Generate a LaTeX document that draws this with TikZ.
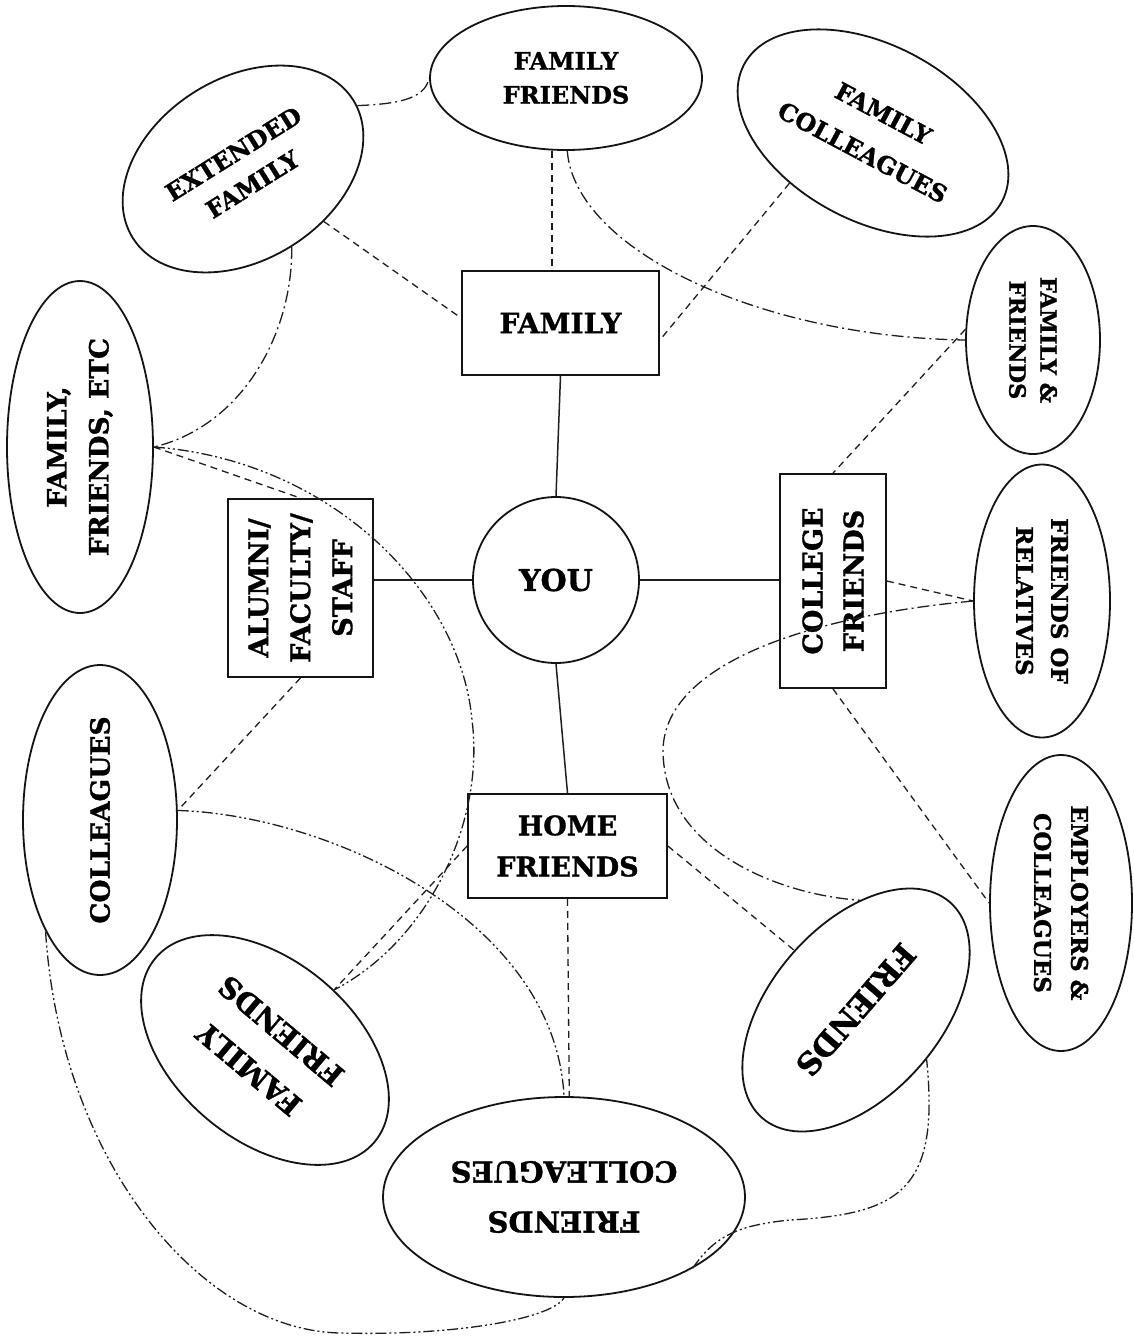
\documentclass[tikz,border=0pt]{standalone}
\usepackage{fontspec}
\setmainfont[BoldFeatures={FakeBold=1.2}]{DejaVu Serif}
\usetikzlibrary{shapes.geometric}
\begin{document}
\begin{tikzpicture}[x=1pt,y=-1pt,
  base/.style={draw=black!92, line width=1.8pt, inner sep=0pt, align=center},
  ell/.style={base, ellipse},
  boxn/.style={base, rectangle},
  sol/.style={draw=black!88, line width=1.5pt},
  dsh/.style={draw=black!88, line width=1.3pt, dash pattern=on 7pt off 5pt},
  dd/.style={draw=black!88, line width=1.3pt, dash pattern=on 12pt off 4pt on 2pt off 4pt},
  ddd/.style={draw=black!88, line width=1.3pt, dash pattern=on 11pt off 3pt on 2pt off 3pt on 2pt off 3pt},
  fnt/.style 2 args={font=\bfseries\fontsize{#1}{#2}\selectfont}
]
\useasboundingbox (0,0) rectangle (1133,1338);
\fill[white] (0,0) rectangle (1133,1338);

% central boxes
\node[boxn, minimum width=197pt, minimum height=104pt, fnt={28}{41}] (family) at (560.5,323) {FAMILY};
\node[base, circle, minimum size=166pt, fnt={30}{36}] (you) at (556,580) {YOU};
\node[boxn, rotate=90, minimum width=178pt, minimum height=145pt, fnt={27}{42}] (alumni) at (300.5,588) {ALUMNI/\\FACULTY/\\STAFF};
\node[boxn, rotate=90, minimum width=214pt, minimum height=106pt, fnt={27}{41}] (college) at (833,581) {COLLEGE\\FRIENDS};
\node[boxn, minimum width=199pt, minimum height=104pt, fnt={27}{41}] (home) at (567.5,846) {HOME\\FRIENDS};

% ellipses
\node[ell, minimum width=272pt, minimum height=144pt, fnt={24}{34}] (fftop) at (566,78) {FAMILY\\FRIENDS};
\node[ell, rotate=32, minimum width=260pt, minimum height=182pt, fnt={24}{36}] (ext) at (243,169) {EXTENDED\\FAMILY};
\node[ell, rotate=-28, minimum width=292pt, minimum height=176pt, fnt={24}{44}] (fcol) at (873,133) {FAMILY\\COLLEAGUES};
\node[ell, rotate=-90, minimum width=228pt, minimum height=134pt, fnt={22.5}{31}] (fandf) at (1033,340) {FAMILY \&\\FRIENDS};
\node[ell, rotate=90, minimum width=332pt, minimum height=146pt, fnt={26.5}{42}] (ffe) at (80,447) {FAMILY,\\FRIENDS, ETC};
\node[ell, rotate=-90, minimum width=273pt, minimum height=136pt, fnt={23}{35}] (forel) at (1042,601) {FRIENDS OF\\RELATIVES};
\node[ell, rotate=90, minimum width=310pt, minimum height=154pt, fnt={26.5}{40}] (colleagues) at (100,820) {COLLEAGUES};
\node[ell, rotate=-90, minimum width=296pt, minimum height=142pt, fnt={23}{37}] (employers) at (1061,903) {EMPLOYERS \&\\COLLEAGUES};
\node[ell, rotate=140, minimum width=286pt, minimum height=180pt, fnt={29}{50}] (fflow) at (265,1050) {FAMILY\\FRIENDS};
\node[ell, rotate=-131, minimum width=286pt, minimum height=170pt, fnt={31}{40}] (friendslow) at (856,1010) {FRIENDS};
\node[ell, rotate=180, minimum width=362pt, minimum height=200pt, fnt={29}{50}] (friendscol) at (564,1197) {FRIENDS\\COLLEAGUES};

% solid connectors
\draw[sol] (family.south) -- (you.north);
\draw[sol] (you.west) -- (you.west -| alumni.south);
\draw[sol] (you.east) -- (you.east -| college.north);
\draw[sol] (you.south) -- (home.north);

% dashed connectors
\draw[dsh] (fftop.-101) -- (fftop.-101 |- family.north);
\draw[dsh] (ext.-65) -- ([yshift=5pt]family.west);
\draw[dsh] (fcol.239) -- ([yshift=-17pt]family.east);
\draw[dsh] (fandf.261) -- (college.east);
\draw[dsh] (college.south) -- (forel.270);
\draw[dsh] (college.west) -- (employers.270);
\draw[dsh] (home.east) -- (friendslow.267);
\draw[dsh] (home.south) -- (friendscol.-93);
\draw[dsh] (home.west) -- (fflow.-99);
\draw[dsh] (alumni.west) -- (colleagues.-83);
\draw[dsh] (ffe.south) -- (alumni.east);

% dash-dot connectors
\draw[dd] (ext.-3) .. controls (395,104) and (425,100) .. (fftop.180);
\draw[dd] (fftop.-89) .. controls (575,250) and (760,337) .. (fandf.270);
\draw[dd] (ext.-90) .. controls (293,330) and (245,425) .. (ffe.south);
\draw[dd] (forel.270) .. controls (820,615) and (665,660) .. (663,750)
          .. controls (663,850) and (780,895) .. (friendslow.219);

% dash-dot-dot connectors
\draw[ddd] (ffe.south) .. controls (330,460) and (460,590) .. (472,720)
           .. controls (485,820) and (430,940) .. (fflow.-99);
\draw[ddd] (colleagues.-83) .. controls (330,815) and (555,920) .. (friendscol.-90);
\draw[ddd] (colleagues.154) .. controls (60,1160) and (200,1330) .. (340,1333)
           .. controls (450,1336) and (550,1320) .. (friendscol.90);
\draw[ddd] (friendscol.151) .. controls (715,1235) and (740,1225) .. (790,1220)
           .. controls (900,1214) and (940,1190) .. (friendslow.96);
\end{tikzpicture}
\end{document}
